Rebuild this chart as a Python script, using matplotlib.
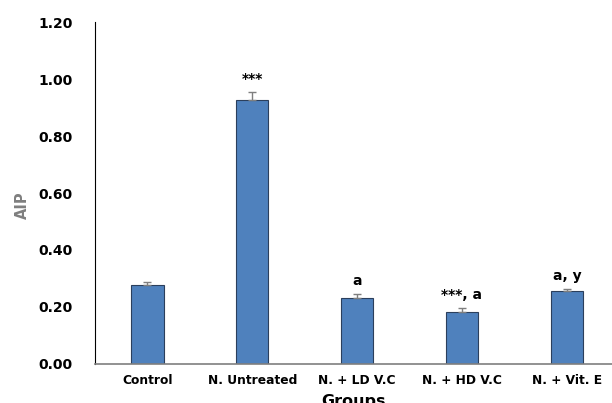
import matplotlib
matplotlib.use("Agg")
import matplotlib.pyplot as plt

groups = ["Control", "N. Untreated", "N. + LD V.C", "N. + HD V.C", "N. + Vit. E"]
values = [0.277, 0.926, 0.232, 0.182, 0.256]
errors = [0.011, 0.028, 0.014, 0.014, 0.007]
labels = ["", "***", "a", "***, a", "a, y"]
yticks = [0.0, 0.2, 0.4, 0.6, 0.8, 1.0, 1.2]

plt.rcParams['font.family'] = ['DejaVu Sans']

fig = plt.figure(figsize=(6.12, 4.03), dpi=100)
ax = fig.add_axes([0.155, 0.097, 0.845, 0.848])
x = list(range(len(groups)))
ax.bar(x, values, width=0.31, color="#4F81BD", edgecolor="#2B3F5C", linewidth=0.8,
       yerr=[[0] * len(errors), errors],
       error_kw=dict(ecolor="#7F7F7F", elinewidth=1, capsize=3, capthick=1), zorder=2)
for xi, v, e, lab in zip(x, values, errors, labels):
    if lab:
        ax.text(xi, v + e + 0.022, lab, ha="center", va="bottom", fontsize=10, fontweight="bold")
ax.set_xlim(-0.5, 4.43)
ax.set_ylim(0, 1.2)
ax.set_yticks(yticks)
ax.set_yticklabels([f"{t:.2f}" for t in yticks], fontsize=10, fontweight="bold")
ax.set_xticks(x)
ax.set_xticklabels(groups, fontsize=8.8, fontweight="bold")
ax.tick_params(axis="x", length=0, pad=7)
ax.tick_params(axis="y", length=0, pad=16)
for s in ["top", "right"]:
    ax.spines[s].set_visible(False)
ax.spines["left"].set_color("black")
ax.spines["bottom"].set_color("#7F7F7F")
ax.spines["bottom"].set_linewidth(1.2)
ax.set_ylabel("AIP", fontsize=10.5, fontweight="bold", color="#7F7F7F")
ax.yaxis.set_label_coords(-0.125, 0.465)
ax.set_xlabel("Groups", fontsize=11.5, fontweight="bold", labelpad=5)
fig.savefig("out.png", dpi=100)
